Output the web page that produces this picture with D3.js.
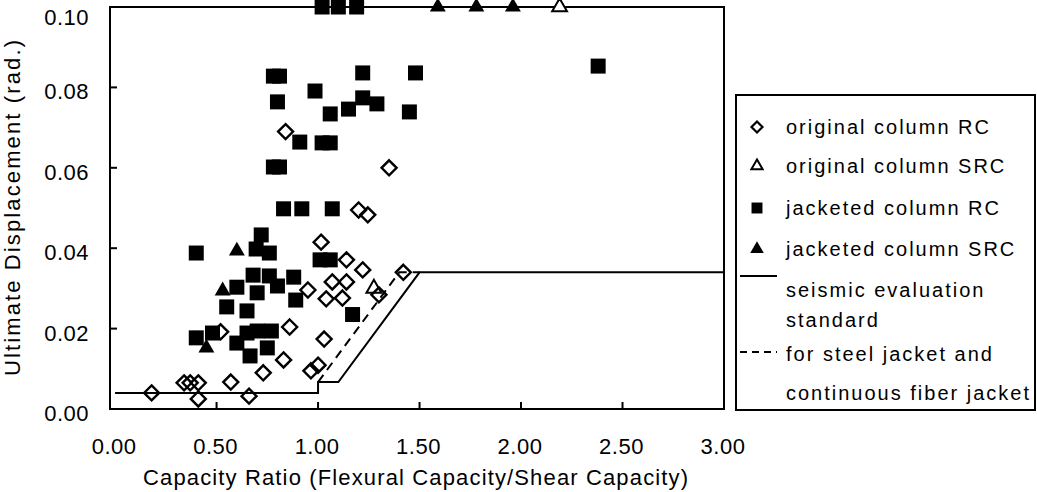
<!DOCTYPE html>
<html>
<head>
<meta charset="utf-8">
<script src="https://cdn.jsdelivr.net/npm/d3@7"></script>
<style>
  body { margin: 0; background: #fff; }
  text { font-family: "Liberation Sans", Arial, sans-serif; fill: #000; }
</style>
</head>
<body>
<div class="chart"></div>
<script>
// capacity ratio / ultimate displacement
const originalRC = [
  [0.84, 0.069], [1.35, 0.060], [1.20, 0.0495], [1.245, 0.0483], [1.015, 0.0415],
  [1.14, 0.0371], [1.22, 0.0346], [1.07, 0.0316], [1.14, 0.0316], [0.95, 0.0296],
  [1.04, 0.0274], [1.12, 0.0276], [1.30, 0.0284], [0.86, 0.0204], [1.03, 0.0174],
  [0.83, 0.0122], [0.73, 0.0090], [0.965, 0.0095], [1.00, 0.0109], [0.57, 0.0067],
  [0.34, 0.0065], [0.37, 0.0065], [0.41, 0.0065], [0.18, 0.0040], [0.41, 0.0025],
  [0.66, 0.0032], [0.52, 0.0192], [1.42, 0.034]
]
const originalSRC = [[2.19, 0.100], [1.275, 0.030]]
const jacketedRC = [
  [1.02, 0.100], [1.10, 0.100], [1.19, 0.100], [2.38, 0.0853],
  [0.78, 0.0828], [0.81, 0.0828], [1.22, 0.0836], [1.48, 0.0836], [0.985, 0.0791],
  [0.80, 0.0764], [1.06, 0.0734], [1.15, 0.0746], [1.22, 0.0774], [1.29, 0.0759],
  [1.45, 0.0739], [0.91, 0.0664], [1.02, 0.0662], [1.06, 0.0662], [0.78, 0.0602],
  [0.81, 0.0602], [0.83, 0.0498], [0.92, 0.0498], [1.07, 0.0498], [0.72, 0.0433],
  [0.40, 0.0388], [0.695, 0.0398], [0.76, 0.0388], [1.01, 0.0371], [1.06, 0.0371],
  [0.68, 0.0333], [0.76, 0.0331], [0.80, 0.0306], [0.70, 0.0289], [0.88, 0.0328],
  [0.89, 0.0271], [0.60, 0.0303], [0.55, 0.0254], [0.65, 0.0244], [1.17, 0.0235],
  [0.40, 0.0177], [0.48, 0.0189], [0.65, 0.0189], [0.70, 0.0194], [0.77, 0.0194],
  [0.60, 0.0164], [0.665, 0.0132], [0.75, 0.0152]
]
const jacketedSRC = [
  [1.59, 0.100], [1.78, 0.100], [1.96, 0.100],
  [0.60, 0.0393], [0.53, 0.0294], [0.45, 0.0152]
]
const standardLine = [[0, 0.004], [1.0, 0.004], [1.0, 0.0067], [1.1, 0.0067], [1.5, 0.034], [3.0, 0.034]]
const jacketLine = [[1.0, 0.0067], [1.4, 0.034], [1.5, 0.034]]

const xTicks = [0, 0.5, 1.0, 1.5, 2.0, 2.5, 3.0]
const yTicks = [0, 0.02, 0.04, 0.06, 0.08, 0.10]
const xTitle = 'Capacity Ratio (Flexural Capacity/Shear Capacity)'
const yTitle = 'Ultimate Displacement (rad.)'
const legendLabels = [
  ['original column RC'], ['original column SRC'], ['jacketed column RC'],
  ['jacketed column SRC'], ['seismic evaluation', 'standard'],
  ['for steel jacket and', 'continuous fiber jacket']
]

const width = 1037
const height = 492
const fontSize = 22
const legendFont = 20

const svg = d3.select('.chart').append('svg')
  .attr('width', width)
  .attr('height', height)

const x = d3.scaleLinear().domain([-0.025, 3]).range([110, 724])
const y = d3.scaleLinear().domain([0, 0.1]).range([409, 7])

// ticks (inward)
svg.append('g').selectAll('line').data(xTicks.slice(1, -1)).join('line')
  .attr('x1', d => x(d)).attr('x2', d => x(d))
  .attr('y1', y(0)).attr('y2', y(0) - 7)
  .attr('stroke', '#000').attr('stroke-width', 2)
svg.append('g').selectAll('line').data(yTicks.slice(1, -1)).join('line')
  .attr('x1', x.range()[0]).attr('x2', x.range()[0] + 7)
  .attr('y1', d => y(d)).attr('y2', d => y(d))
  .attr('stroke', '#000').attr('stroke-width', 2)

// lines
const line = d3.line().x(d => x(d[0])).y(d => y(d[1]))
svg.append('path').datum(standardLine).attr('d', line)
  .attr('fill', 'none').attr('stroke', '#000').attr('stroke-width', 2)
svg.append('path').datum(jacketLine).attr('d', line)
  .attr('fill', 'none').attr('stroke', '#000').attr('stroke-width', 2)
  .attr('stroke-dasharray', '9,6')

// frame
svg.append('rect')
  .attr('x', x.range()[0]).attr('y', y(0.1))
  .attr('width', x.range()[1] - x.range()[0]).attr('height', y(0) - y(0.1))
  .attr('fill', 'none').attr('stroke', '#000').attr('stroke-width', 2)

// markers
const sym = (type, size) => d3.symbol().type(type).size(size)
const diamond = (s) => `M0,${-s}L${s},0L0,${s}L${-s},0Z`

svg.append('g').selectAll('path').data(jacketedRC).join('path')
  .attr('transform', d => `translate(${x(d[0])},${y(d[1])})`)
  .attr('d', sym(d3.symbolSquare, 225)).attr('fill', '#000')
svg.append('g').selectAll('path').data(jacketedSRC).join('path')
  .attr('transform', d => `translate(${x(d[0])},${y(d[1])})`)
  .attr('d', sym(d3.symbolTriangle, 110)).attr('fill', '#000')
svg.append('g').selectAll('path').data(originalSRC).join('path')
  .attr('transform', d => `translate(${x(d[0])},${y(d[1])})`)
  .attr('d', sym(d3.symbolTriangle, 95)).attr('fill', '#fff')
  .attr('stroke', '#000').attr('stroke-width', 2)
svg.append('g').selectAll('path').data(originalRC).join('path')
  .attr('transform', d => `translate(${x(d[0])},${y(d[1])})`)
  .attr('d', diamond(7.5)).attr('fill', 'none')
  .attr('stroke', '#000').attr('stroke-width', 2.4)

// tick labels
svg.append('g').selectAll('text').data(xTicks).join('text')
  .attr('x', d => x(d) - 1).attr('y', 454)
  .attr('text-anchor', 'middle').attr('font-size', fontSize)
  .attr('letter-spacing', 0.5)
  .text(d => d.toFixed(2))
svg.append('g').selectAll('text').data(yTicks).join('text')
  .attr('x', 89).attr('y', d => d === 0.1 ? 25 : y(d) + 12)
  .attr('text-anchor', 'end').attr('font-size', fontSize)
  .attr('letter-spacing', 0.5)
  .text(d => d.toFixed(2))

// titles
svg.append('text').attr('x', 143).attr('y', 485)
  .attr('font-size', fontSize)
  .attr('textLength', 545).attr('lengthAdjust', 'spacing')
  .text(xTitle)
svg.append('text')
  .attr('transform', `translate(20,376) rotate(-90)`)
  .attr('font-size', fontSize)
  .attr('textLength', 336).attr('lengthAdjust', 'spacing')
  .text(yTitle)

// legend
const lg = svg.append('g')
lg.append('rect').attr('x', 736).attr('y', 95).attr('width', 299).attr('height', 315)
  .attr('fill', '#fff').attr('stroke', '#000').attr('stroke-width', 2)

const rowY = [127, 166, 208, 249, 290, 354]
const rowGap = [0, 0, 0, 0, 30, 39]
lg.append('path').attr('transform', `translate(757,${rowY[0]})`)
  .attr('d', diamond(5.5)).attr('fill', 'none').attr('stroke', '#000').attr('stroke-width', 2.2)
lg.append('path').attr('transform', `translate(757,${rowY[1]})`)
  .attr('d', sym(d3.symbolTriangle, 55)).attr('fill', '#fff').attr('stroke', '#000').attr('stroke-width', 2)
lg.append('path').attr('transform', `translate(757,${rowY[2]})`)
  .attr('d', sym(d3.symbolSquare, 120)).attr('fill', '#000')
lg.append('path').attr('transform', `translate(757,${rowY[3]})`)
  .attr('d', sym(d3.symbolTriangle, 80)).attr('fill', '#000')
lg.append('line').attr('x1', 740).attr('x2', 777).attr('y1', 276).attr('y2', 276)
  .attr('stroke', '#000').attr('stroke-width', 2)
lg.append('line').attr('x1', 740).attr('x2', 777).attr('y1', 352).attr('y2', 352)
  .attr('stroke', '#000').attr('stroke-width', 2).attr('stroke-dasharray', '7,5')

lg.selectAll('text.item').data(legendLabels).join('text')
  .attr('class', 'item')
  .attr('y', (d, i) => rowY[i] + 7)
  .attr('font-size', legendFont)
  .attr('letter-spacing', 2)
  .each(function (d, i) {
    d3.select(this).selectAll('tspan').data(d).join('tspan')
      .attr('x', 786)
      .attr('dy', (t, j) => j === 0 ? 0 : rowGap[i])
      .text(t => t)
  })
</script>
</body>
</html>
